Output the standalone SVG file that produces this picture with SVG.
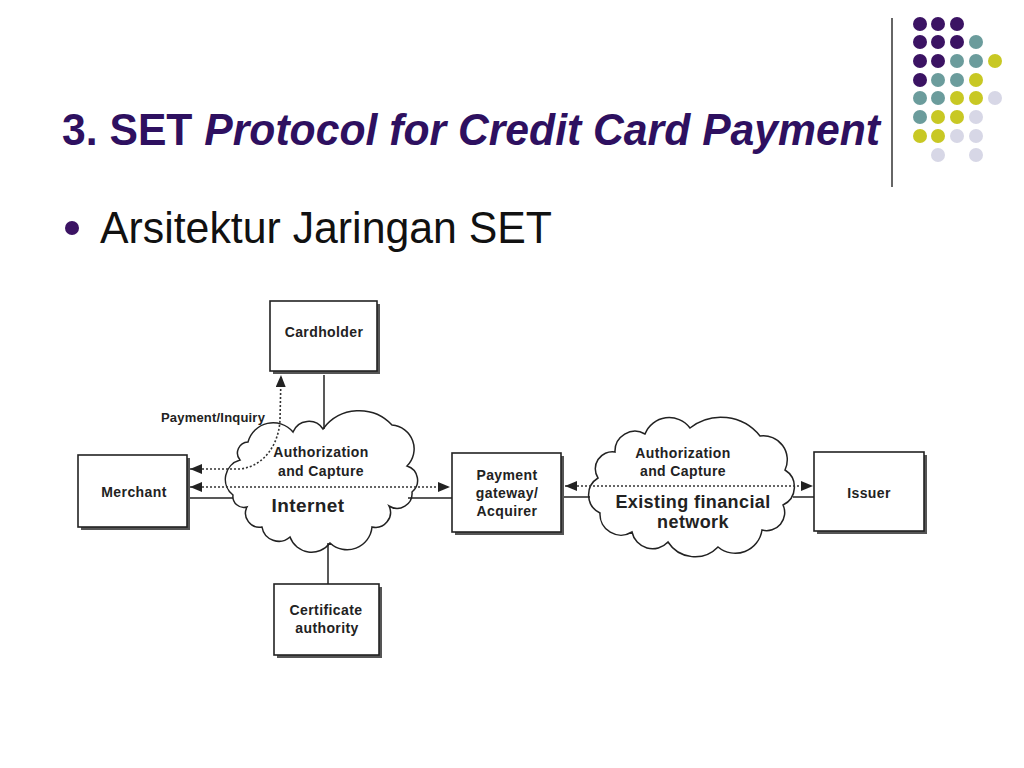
<svg xmlns="http://www.w3.org/2000/svg" width="1024" height="768" viewBox="0 0 1024 768">
<defs>
<marker id="ah" viewBox="0 0 12 10" refX="12" refY="5" markerWidth="12" markerHeight="10" markerUnits="userSpaceOnUse" orient="auto-start-reverse">
<path d="M0,0 L12,5 L0,10 z" fill="#222"/>
</marker>
<style>
.box{fill:#fff;stroke:#222;stroke-width:1.6}
.shadow{fill:#555}
.lbl{font-family:"Liberation Sans",Arial,sans-serif;font-weight:bold;font-size:14px;fill:#222;text-anchor:middle;letter-spacing:0.4px}
.big{font-size:19px}
.cloud{fill:#fff;stroke:#222;stroke-width:1.5}
.solid{fill:none;stroke:#222;stroke-width:1.5}
.dot{fill:none;stroke:#333;stroke-width:1.6;stroke-dasharray:2 2}
.p{fill:#3b1363}.t{fill:#6b9c9c}.y{fill:#c8c824}.l{fill:#d7d7e6}
</style>
</defs>
<rect width="1024" height="768" fill="#fff"/>

<g id="decor">
<line x1="892" y1="18" x2="892" y2="187" stroke="#333" stroke-width="1.5"/>
<circle class="p" cx="920" cy="24" r="7"/><circle class="p" cx="938" cy="24" r="7"/><circle class="p" cx="957" cy="24" r="7"/>
<circle class="p" cx="920" cy="42" r="7"/><circle class="p" cx="938" cy="42" r="7"/><circle class="p" cx="957" cy="42" r="7"/><circle class="t" cx="976" cy="42" r="7"/>
<circle class="p" cx="920" cy="61" r="7"/><circle class="p" cx="938" cy="61" r="7"/><circle class="t" cx="957" cy="61" r="7"/><circle class="t" cx="976" cy="61" r="7"/><circle class="y" cx="995" cy="61" r="7"/>
<circle class="p" cx="920" cy="80" r="7"/><circle class="t" cx="938" cy="80" r="7"/><circle class="t" cx="957" cy="80" r="7"/><circle class="y" cx="976" cy="80" r="7"/>
<circle class="t" cx="920" cy="98" r="7"/><circle class="t" cx="938" cy="98" r="7"/><circle class="y" cx="957" cy="98" r="7"/><circle class="y" cx="976" cy="98" r="7"/><circle class="l" cx="995" cy="98" r="7"/>
<circle class="t" cx="920" cy="117" r="7"/><circle class="y" cx="938" cy="117" r="7"/><circle class="y" cx="957" cy="117" r="7"/><circle class="l" cx="976" cy="117" r="7"/>
<circle class="y" cx="920" cy="136" r="7"/><circle class="y" cx="938" cy="136" r="7"/><circle class="l" cx="957" cy="136" r="7"/><circle class="l" cx="976" cy="136" r="7"/>
<circle class="l" cx="938" cy="155" r="7"/><circle class="l" cx="976" cy="155" r="7"/>
</g>

<g id="title">
<text x="62" y="145" font-family="'Liberation Sans', Arial, sans-serif" font-weight="bold" font-size="44" fill="#2e1060" textLength="818" lengthAdjust="spacingAndGlyphs">3. SET <tspan font-style="italic">Protocol for Credit Card Payment</tspan></text>
</g>

<g id="bullet">
<circle cx="72" cy="228" r="7" fill="#3b1363"/>
<text x="100" y="243" font-family="'Liberation Sans', Arial, sans-serif" font-size="45" fill="#111" textLength="452" lengthAdjust="spacingAndGlyphs">Arsitektur Jaringan SET</text>
</g>

<g id="internet-cloud">
<path class="cloud" d="M233,495 A20,20 0 0 1 240,460 A11,11 0 0 1 248,442 A26,26 0 0 1 293,432 A17,17 0 0 1 323,429 A45,45 0 0 1 392,425 A24,24 0 0 1 407,466 A15,15 0 0 1 412,492 A15,15 0 0 1 389,506 A15,15 0 0 1 372,527 A25,25 0 0 1 330,543 A23,23 0 0 1 290,537 A17,17 0 0 1 262,527 A14,14 0 0 1 247,507 A11,11 0 0 1 233,495 Z"/>
<text class="lbl" x="321" y="457">Authorization</text>
<text class="lbl" x="321" y="476">and Capture</text>
<text class="lbl big" x="308" y="512">Internet</text>
</g>

<g id="financial-cloud">
<path class="cloud" d="M600,513 A20,20 0 0 1 598,478 A17,17 0 0 1 615,452 A20,20 0 0 1 645,434 A26,26 0 0 1 690,428 A50,50 0 0 1 760,436 A24,24 0 0 1 785,470 A20,20 0 0 1 783,505 A18,18 0 0 1 762,530 A27,27 0 0 1 718,547 A32,32 0 0 1 668,542 A21,21 0 0 1 632,532 A21,21 0 0 1 600,513 Z"/>
<text class="lbl" x="683" y="458">Authorization</text>
<text class="lbl" x="683" y="476">and Capture</text>
<text class="lbl big" x="693" y="508" style="font-size:18px">Existing financial</text>
<text class="lbl big" x="693" y="528" style="font-size:18px">network</text>
</g>

<g id="connectors">
<line class="solid" x1="324" y1="375" x2="324" y2="429"/>
<line class="solid" x1="328" y1="543" x2="328" y2="584"/>
<line class="solid" x1="190" y1="498" x2="233" y2="498"/>
<line class="solid" x1="408" y1="498" x2="452" y2="498"/>
<line class="solid" x1="564" y1="497" x2="590" y2="497"/>
<line class="solid" x1="793" y1="497" x2="814" y2="497"/>
<line class="dot" x1="190" y1="487" x2="450" y2="487" marker-start="url(#ah)" marker-end="url(#ah)"/>
<line class="dot" x1="565" y1="486" x2="813" y2="486" marker-start="url(#ah)" marker-end="url(#ah)"/>
<path class="dot" d="M190,469 L240,469 C266,466 279,442 280,420 L281,375" marker-start="url(#ah)" marker-end="url(#ah)"/>
<text class="lbl" x="213" y="422" style="font-size:13px;letter-spacing:0.2px">Payment/Inquiry</text>
</g>

<g id="cardholder">
<rect class="shadow" x="273" y="304" width="107" height="70"/>
<rect class="box" x="270" y="301" width="107" height="70"/>
<text class="lbl" x="324" y="337">Cardholder</text>
</g>

<g id="merchant">
<rect class="shadow" x="81" y="458" width="109" height="72"/>
<rect class="box" x="78" y="455" width="109" height="72"/>
<text class="lbl" x="134" y="497">Merchant</text>
</g>

<g id="gateway">
<rect class="shadow" x="455" y="456" width="109" height="79"/>
<rect class="box" x="452" y="453" width="109" height="79"/>
<text class="lbl" x="507" y="480">Payment</text>
<text class="lbl" x="507" y="498">gateway/</text>
<text class="lbl" x="507" y="516">Acquirer</text>
</g>

<g id="issuer">
<rect class="shadow" x="817" y="455" width="110" height="79"/>
<rect class="box" x="814" y="452" width="110" height="79"/>
<text class="lbl" x="869" y="498">Issuer</text>
</g>

<g id="certificate-authority">
<rect class="shadow" x="277" y="587" width="105" height="71"/>
<rect class="box" x="274" y="584" width="105" height="71"/>
<text class="lbl" x="326" y="615">Certificate</text>
<text class="lbl" x="327" y="633">authority</text>
</g>
</svg>
